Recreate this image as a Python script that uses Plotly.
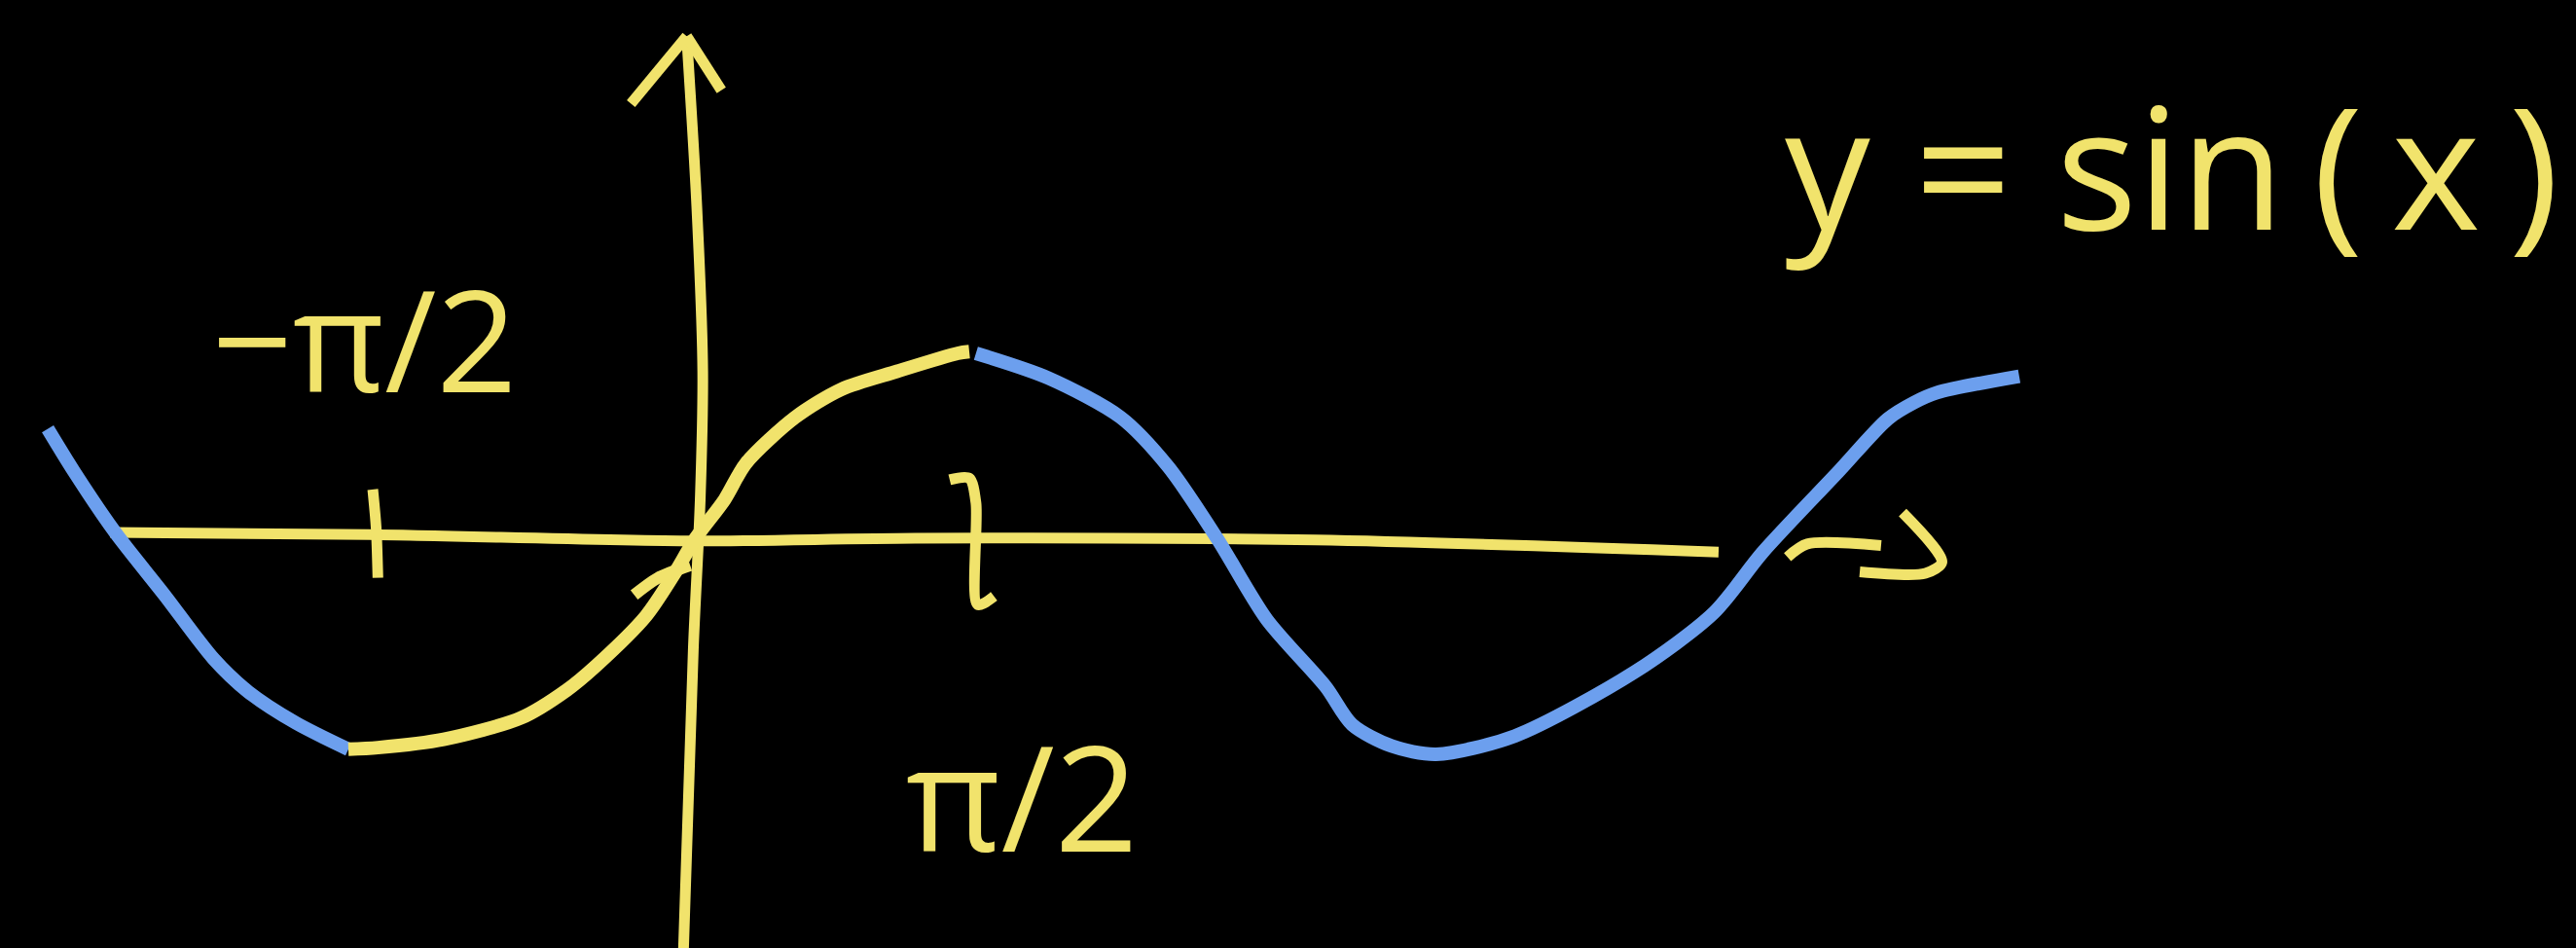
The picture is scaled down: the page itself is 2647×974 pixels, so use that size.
import plotly.graph_objects as go

# Sketch coordinates: x in radians, y in units of sin(x)
YELLOW = "#F1E36C"
BLUE = "#6C9FEE"
BG = "#000000"

# Hand-drawn curve, left blue part (x < -pi/2)
blue_left_x = [-3.786, -3.632, -3.391, -3.102, -2.813, -2.611, -2.331, -2.023]
blue_left_y = [0.589, 0.357, 0.027, -0.313, -0.661, -0.839, -1.009, -1.152]

# Yellow part between -pi/2 and pi/2
yellow_x = [-2.023, -1.850, -1.464, -1.012, -0.742, -0.568, -0.279, -0.116,
            0.010, 0.183, 0.308, 0.597, 0.867, 1.195, 1.551, 1.618]
yellow_y = [-1.152, -1.143, -1.098, -0.982, -0.830, -0.696, -0.429, -0.205,
            -0.009, 0.205, 0.402, 0.652, 0.804, 0.902, 1.000, 1.009]

# Short extra stroke near the origin
stroke_x = [-0.347, -0.212, -0.019]
stroke_y = [-0.313, -0.223, -0.152]

# Right blue part (x > pi/2)
blue_right_x = [1.657, 2.081, 2.505, 2.784, 3.073, 3.362, 3.709, 3.863, 4.094,
                4.355, 4.817, 5.520, 5.983, 6.272, 6.715, 7.004, 7.158, 7.293, 7.775]
blue_right_y = [1.000, 0.866, 0.652, 0.384, -0.009, -0.446, -0.813, -1.018, -1.134,
                -1.179, -1.080, -0.732, -0.411, -0.080, 0.357, 0.643, 0.732, 0.786, 0.875]

# Hand-drawn x axis and its arrow
xaxis_x = [-3.420, -1.900, 0.000, 1.300, 3.650, 6.012]
xaxis_y = [0.027, 0.015, -0.020, -0.005, -0.015, -0.080]
xarrow_stem_x = [6.416, 6.532, 6.965]
xarrow_stem_y = [-0.107, -0.036, -0.045]
xarrow_head_x = [7.091, 7.322, 7.225, 6.840]
xarrow_head_y = [0.134, -0.134, -0.196, -0.188]

# Hand-drawn y axis and its arrow
yaxis_x = [-0.039, 0.020, 0.055, 0.040, 0.000, -0.060]
yaxis_y = [2.723, 1.800, 0.900, 0.200, -0.600, -2.300]
yarrow_left_x = [-0.366, -0.039]
yarrow_left_y = [2.357, 2.723]
yarrow_right_x = [-0.039, 0.164]
yarrow_right_y = [2.723, 2.429]

# Tick marks at -pi/2 and pi/2
tick_neg_x = [-1.880, -1.860, -1.850]
tick_neg_y = [0.260, 0.050, -0.220]
tick_pos_x = [1.503, 1.618, 1.657, 1.667, 1.763]
tick_pos_y = [0.313, 0.321, 0.188, -0.366, -0.321]

# Text labels
labels = ["−π/2", "π/2", "y = sin\u2009(\u2009x\u2009)"]
label_x = [-1.927, 1.927, 8.671]
label_y = [1.089, -1.400, 2.030]
label_size = [145, 150, 175]

fig = go.Figure()


def stroke(xs, ys, color, width=12, spline=True):
    fig.add_trace(go.Scatter(
        x=xs, y=ys, mode="lines",
        line=dict(color=color, width=width,
                  shape="spline" if spline else "linear", smoothing=0.8),
        hoverinfo="skip", showlegend=False,
    ))


# axes first, then the curve on top
stroke(xaxis_x, xaxis_y, YELLOW, 11)
stroke(xarrow_stem_x, xarrow_stem_y, YELLOW, 11)
stroke(xarrow_head_x, xarrow_head_y, YELLOW, 11)
stroke(yaxis_x, yaxis_y, YELLOW, 11)
stroke(yarrow_left_x, yarrow_left_y, YELLOW, 11, spline=False)
stroke(yarrow_right_x, yarrow_right_y, YELLOW, 11, spline=False)
stroke(tick_neg_x, tick_neg_y, YELLOW, 11)
stroke(tick_pos_x, tick_pos_y, YELLOW, 11)

stroke(blue_left_x, blue_left_y, BLUE, 14)
stroke(blue_right_x, blue_right_y, BLUE, 14)
stroke(yellow_x, yellow_y, YELLOW, 14)
stroke(stroke_x, stroke_y, YELLOW, 12)

for t, lx, ly, s in zip(labels, label_x, label_y, label_size):
    fig.add_annotation(
        x=lx, y=ly, text=t, showarrow=False,
        font=dict(family="Open Sans", size=s, color=YELLOW),
        xanchor="center", yanchor="middle",
    )

fig.update_layout(
    width=2647, height=974,
    margin=dict(l=0, r=0, t=0, b=0),
    paper_bgcolor=BG, plot_bgcolor=BG,
    xaxis=dict(range=[-4.066, 11.040], visible=False, fixedrange=True),
    yaxis=dict(range=[-2.232, 2.920], visible=False, fixedrange=True),
)

fig.write_html("out.html")
